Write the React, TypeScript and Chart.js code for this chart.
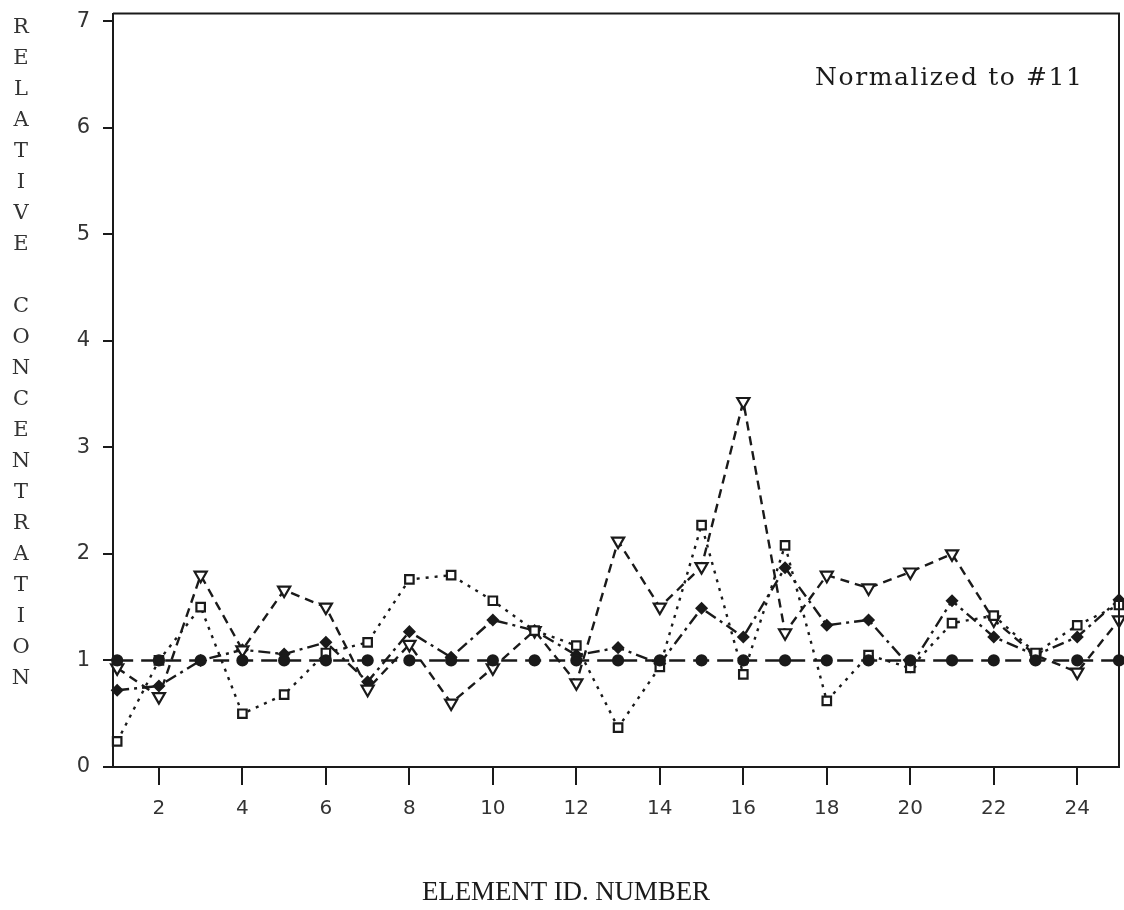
import React, { useEffect, useRef } from "react";
import { Chart, registerables } from "chart.js";

Chart.register(...registerables);

const ELEMENT_IDS = [1, 2, 3, 4, 5, 6, 7, 8, 9, 10, 11, 12, 13, 14, 15, 16, 17, 18, 19, 20, 21, 22, 23, 24, 25];
const X_TICKS = [2, 4, 6, 8, 10, 12, 14, 16, 18, 20, 22, 24];
const Y_TICKS = [0, 1, 2, 3, 4, 5, 6, 7];

const SERIES_CIRCLE = [1, 1, 1, 1, 1, 1, 1, 1, 1, 1, 1, 1, 1, 1, 1, 1, 1, 1, 1, 1, 1, 1, 1, 1, 1];
const SERIES_SQUARE = [0.24, 1.0, 1.5, 0.5, 0.68, 1.07, 1.17, 1.76, 1.8, 1.56, 1.28, 1.14, 0.37, 0.94, 2.27, 0.87, 2.08, 0.62, 1.05, 0.93, 1.35, 1.42, 1.07, 1.33, 1.52];
const SERIES_TRIANGLE = [0.93, 0.66, 1.8, 1.1, 1.66, 1.5, 0.73, 1.15, 0.6, 0.93, 1.28, 0.79, 2.12, 1.5, 1.88, 3.43, 1.26, 1.8, 1.68, 1.83, 2.0, 1.38, 1.05, 0.89, 1.38];
const SERIES_DIAMOND = [0.72, 0.76, 1.0, 1.1, 1.06, 1.17, 0.8, 1.27, 1.03, 1.38, 1.28, 1.05, 1.12, 0.97, 1.49, 1.22, 1.87, 1.33, 1.38, 0.94, 1.56, 1.22, 1.05, 1.22, 1.57];

const Y_LABEL = "RELATIVE CONCENTRATION";
const X_LABEL = "ELEMENT ID. NUMBER";
const NOTE = "Normalized to #11";

const INK = "#1a1a1a";
const OFF = 12;

const toPoints = (vals: number[]) => ELEMENT_IDS.map((x, i) => ({ x, y: vals[i] }));

function fitText(ctx: any, text: string, left: number, right: number, y: number) {
  ctx.letterSpacing = "0px";
  const w = ctx.measureText(text).width;
  const n = text.length;
  const sp = n > 1 ? (right - left - w) / (n - 1) : 0;
  ctx.letterSpacing = sp + "px";
  ctx.textAlign = "left";
  ctx.fillText(text, left, y);
  ctx.letterSpacing = "0px";
}

const decorPlugin = {
  id: "decor",
  afterDraw(chart: any) {
    const { ctx, chartArea } = chart;
    ctx.save();
    ctx.strokeStyle = INK;
    ctx.lineWidth = 2;
    ctx.beginPath();
    ctx.moveTo(chartArea.left, chartArea.top);
    ctx.lineTo(chartArea.right, chartArea.top);
    ctx.lineTo(chartArea.right, chartArea.bottom);
    ctx.stroke();

    ctx.fillStyle = INK;
    ctx.textBaseline = "middle";
    ctx.font = '25px "DejaVu Serif"';
    fitText(ctx, NOTE, 815, 1082, 78 + OFF);

    ctx.font = '27px "Liberation Serif"';
    fitText(ctx, X_LABEL, 422, 710, 893 + OFF);

    ctx.font = '21px "DejaVu Serif"';
    ctx.fillStyle = "#333";
    ctx.textAlign = "center";
    const chars = Y_LABEL.split("");
    chars.forEach((c, i) => {
      if (c !== " ") ctx.fillText(c, 21, 28 + i * 31 + OFF);
    });
    ctx.restore();
  },
};

export default function App() {
  const ref = useRef<HTMLCanvasElement | null>(null);

  useEffect(() => {
    if (!ref.current) return;
    const common = { borderColor: INK, borderWidth: 2.4, pointBorderColor: INK, pointBorderWidth: 2.2, tension: 0, fill: false };
    const chart = new Chart(ref.current, {
      type: "line",
      data: {
        datasets: [
          { ...common, label: "circle", data: toPoints(SERIES_CIRCLE), borderDash: [16, 8], pointStyle: "circle", pointRadius: 5, pointBackgroundColor: INK },
          { ...common, label: "square", data: toPoints(SERIES_SQUARE), borderDash: [3, 6], pointStyle: "rect", pointRadius: 6, pointBackgroundColor: "#fff" },
          { ...common, label: "triangle", data: toPoints(SERIES_TRIANGLE), borderDash: [9, 6], pointStyle: "triangle", rotation: 180, pointRotation: 180, pointRadius: 7, pointBackgroundColor: "#fff" },
          { ...common, label: "diamond", data: toPoints(SERIES_DIAMOND), borderDash: [12, 5, 3, 5], pointStyle: "rectRot", pointRadius: 5, pointBackgroundColor: INK },
        ] as any,
      },
      options: {
        animation: false,
        responsive: true,
        maintainAspectRatio: false,
        clip: false as any,
        layout: { autoPadding: false, padding: { top: 2, right: 5, left: 0, bottom: 0 } },
        plugins: { legend: { display: false }, tooltip: { enabled: false } },
        scales: {
          x: {
            type: "linear",
            min: 0.9,
            max: 25,
            afterBuildTicks: (scale: any) => {
              scale.ticks = X_TICKS.map((v) => ({ value: v }));
            },
            afterFit: (scale: any) => {
              scale.height = 143;
            },
            border: { display: true, color: INK, width: 2 },
            grid: { display: true, drawOnChartArea: false, drawTicks: true, tickLength: 18, color: INK, lineWidth: 2 },
            ticks: { color: "#333", font: { family: "DejaVu Sans", size: 20 }, padding: 12, maxRotation: 0, autoSkip: false },
          },
          y: {
            type: "linear",
            min: 0,
            max: 7.07,
            afterBuildTicks: (scale: any) => {
              scale.ticks = Y_TICKS.map((v) => ({ value: v }));
            },
            afterFit: (scale: any) => {
              scale.width = 113;
            },
            border: { display: true, color: INK, width: 2 },
            grid: { display: true, drawOnChartArea: false, drawTicks: true, tickLength: 10, color: INK, lineWidth: 2 },
            ticks: { color: "#333", font: { family: "DejaVu Sans", size: 21 }, padding: 13 },
          },
        },
      },
      plugins: [decorPlugin],
    });
    return () => chart.destroy();
  }, []);

  return (
    <div style={{ position: "fixed", left: 0, top: -OFF, width: 1124, height: 910 + OFF, background: "#fff" }}>
      <canvas ref={ref} />
    </div>
  );
}
